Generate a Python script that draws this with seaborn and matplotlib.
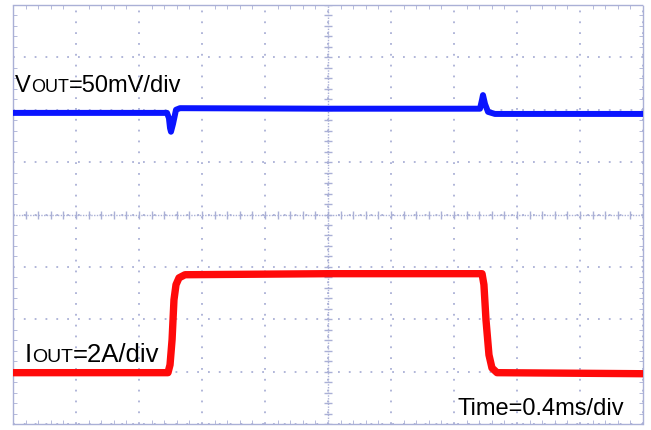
import numpy as np
import pandas as pd
import matplotlib
matplotlib.use('Agg')
import matplotlib.pyplot as plt
import seaborn as sns
from matplotlib.transforms import IdentityTransform

# Zeitachse in ms (0.4 ms/div, 10 Divisionen), Pegel in Divisionen (-4..4)
vout_t = [0.0, 0.978, 0.990, 0.997, 1.003, 1.016, 1.035, 1.060, 2.000, 2.965,
          2.978, 2.984, 2.997, 3.016, 3.060, 4.0]
vout_div = [1.94, 1.94, 1.84, 1.65, 1.58, 1.73, 2.00, 2.03, 2.02, 2.02,
            2.19, 2.28, 2.11, 1.96, 1.92, 1.92]

iout_t = [0.0, 0.984, 0.997, 1.010, 1.022, 1.035, 1.054, 1.092, 2.000, 2.978,
          2.990, 3.003, 3.022, 3.041, 3.073, 4.0]
iout_div = [-3.02, -3.02, -2.87, -2.39, -1.63, -1.34, -1.21, -1.15, -1.13, -1.13,
            -1.34, -2.01, -2.68, -2.93, -3.02, -3.04]

vout_label = [('V', 17), ('OUT', 13), ('=50mV/div', 17)]
iout_label = [('I', 18.5), ('OUT', 14), ('=2A/div', 18.5)]
time_label = [('Time=0.4ms/div', 17)]

grid_c = '#aab0d6'

sns.set_style('white')
plt.rcParams['font.family'] = ['Liberation Sans', 'DejaVu Sans']

fig = plt.figure(figsize=(6.51, 4.30), dpi=100)
ax = fig.add_axes([13 / 651, 6 / 430, 630 / 651, 419 / 430])

df_v = pd.DataFrame({'t': vout_t, 'v': vout_div})
df_i = pd.DataFrame({'t': iout_t, 'i': iout_div})
sns.lineplot(data=df_v, x='t', y='v', color='#0a14ff', lw=4.3, ax=ax, zorder=3)
sns.lineplot(data=df_i, x='t', y='i', color='#ff0a0a', lw=5.3, ax=ax, zorder=3)

ax.set_xlim(0, 4)
ax.set_ylim(-4, 4)
ax.set_xticks(np.arange(0, 4.01, 0.4))
ax.set_yticks(np.arange(-4, 4.01, 1))
ax.set_xticks(np.arange(0, 4.01, 0.08), minor=True)
ax.set_yticks(np.arange(-4, 4.01, 0.2), minor=True)
ax.set_xticklabels([])
ax.set_yticklabels([])
ax.set_xlabel('')
ax.set_ylabel('')
ax.grid(True, which='major', ls=(0, (1, 5)), color=grid_c, lw=1.3)
ax.tick_params(which='major', length=0)
ax.tick_params(which='minor', direction='in', length=3, color=grid_c,
               top=True, bottom=True, left=True, right=True)
for sp in ax.spines.values():
    sp.set_visible(True)
    sp.set_color(grid_c)
    sp.set_linestyle((0, (1, 1)))
    sp.set_linewidth(1)

# Mittelachsen mit Teilstrichen
ax.axhline(0, ls=(0, (1, 1)), color=grid_c, lw=1, zorder=1)
ax.axvline(2.0, ls=(0, (1, 1)), color=grid_c, lw=1, zorder=1)
mx = np.arange(0, 4.01, 0.08)
my = np.arange(-4, 4.01, 0.2)
ax.plot(mx, np.zeros_like(mx), ls='none', marker='|', ms=6, mew=1, color=grid_c, zorder=1)
ax.plot(np.full_like(my, 2.0), my, ls='none', marker='_', ms=6, mew=1, color=grid_c, zorder=1)

fig.canvas.draw()
renderer = fig.canvas.get_renderer()


def put_label(x, y, parts):
    # Text stückweise setzen (Kapitälchen für "OUT")
    for s, size in parts:
        t = fig.text(x, y, s, fontsize=size, color='black', va='baseline',
                     ha='left', transform=IdentityTransform())
        x += t.get_window_extent(renderer).width


put_label(15, 430 - 92, vout_label)
put_label(25, 430 - 362, iout_label)
put_label(458, 430 - 415, time_label)

fig.savefig('out.png', dpi=100)
